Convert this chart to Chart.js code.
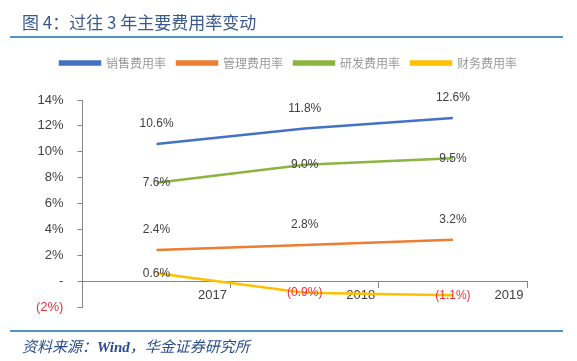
<!DOCTYPE html>
<html>
<head>
<meta charset="utf-8">
<script src="https://cdn.jsdelivr.net/npm/chart.js@4"></script>
<style>
  html, body { margin: 0; padding: 0; background: #fff; }
  #wrap { position: relative; width: 577px; height: 361px; overflow: hidden; }
  #chart { position: absolute; left: 0; top: 0; }
  .title { position: absolute; left: 22px; top: 9px; font: 17px "Noto Sans CJK SC", sans-serif; color: #3A5A8C; white-space: nowrap; }
  .rule { position: absolute; left: 10px; width: 553px; height: 2px; background: #4C93CC; }
  .source { position: absolute; left: 22px; top: 335px; font: italic 15px "Noto Sans CJK SC", sans-serif; color: #2B4C8C; white-space: nowrap; }
  .source b { font-family: "Liberation Serif", serif; }
</style>
</head>
<body>
<div id="wrap">
  <canvas id="chart" width="577" height="361"></canvas>
  <div class="title">图 4：过往 3 年主要费用率变动</div>
  <div class="rule" style="top:36px"></div>
  <div class="rule" style="top:330px"></div>
  <div class="source">资料来源：<b>Wind</b>，华金证券研究所</div>
</div>
<script>
// years on the x axis
const years = ['2017', '2018', '2019'];

// expense ratios in percent
const salesRatio = [10.6, 11.8, 12.6];    // 销售费用率
const adminRatio = [2.4, 2.8, 3.2];       // 管理费用率
const rdRatio = [7.6, 9.0, 9.5];          // 研发费用率
const financeRatio = [0.6, -0.9, -1.1];   // 财务费用率

// y axis range in percent
const yTicks = [-2, 0, 2, 4, 6, 8, 10, 12, 14];

// format like the report: negatives in brackets, zero as a dash
function fmtPct(v, digits) {
  if (v === 0) return '-';
  const s = Math.abs(v).toFixed(digits) + '%';
  return v < 0 ? '(' + s + ')' : s;
}

// more room under the legend, and nudge it a bit to the right
const legendSpace = {
  id: 'legendSpace',
  beforeInit(chart) {
    const fit = chart.legend.fit;
    chart.legend.fit = function () {
      fit.call(this);
      this.height += 21;
    };
  },
  afterLayout(chart) {
    chart.legend.left += 14;
    chart.legend.right += 14;
  }
};

// simple value labels, drawn from the points the library placed
const valueLabels = {
  id: 'valueLabels',
  afterDatasetsDraw(chart) {
    const ctx = chart.ctx;
    ctx.save();
    ctx.font = '12px "Liberation Sans", Arial, sans-serif';
    ctx.textAlign = 'center';
    ctx.textBaseline = 'middle';
    chart.data.datasets.forEach((ds, i) => {
      const meta = chart.getDatasetMeta(i);
      meta.data.forEach((pt, j) => {
        const v = ds.data[j];
        ctx.fillStyle = v < 0 ? '#E8303A' : '#404040';
        ctx.fillText(fmtPct(v, 1), pt.x, pt.y + ds.labelShift);
      });
    });
    ctx.restore();
  }
};

function line(label, data, color, shift) {
  return {
    label: label,
    data: data,
    borderColor: color,
    backgroundColor: color,
    borderWidth: 2.5,
    pointRadius: 0,
    tension: 0,
    labelShift: shift
  };
}

new Chart(document.getElementById('chart'), {
  type: 'line',
  data: {
    labels: years,
    datasets: [
      line('销售费用率', salesRatio, '#4472C4', -20),
      line('管理费用率', adminRatio, '#ED7D31', -20),
      line('研发费用率', rdRatio, '#8CB441', 0),
      line('财务费用率', financeRatio, '#FFC000', 0)
    ]
  },
  options: {
    responsive: false,
    animation: false,
    layout: { padding: { left: 22, right: 50, top: 46, bottom: 54 } },
    plugins: {
      tooltip: { enabled: false },
      legend: {
        position: 'top',
        labels: {
          boxWidth: 40,
          boxHeight: 3,
          padding: 11,
          color: '#999999',
          font: { size: 12, family: '"Noto Sans CJK SC", sans-serif' }
        }
      }
    },
    scales: {
      x: {
        type: 'category',
        offset: true,
        position: { y: 0 },
        grid: { offset: true, drawOnChartArea: false, tickLength: 6, color: '#868686' },
        border: { color: '#868686', width: 1 },
        ticks: {
          labelOffset: 56,
          padding: 0,
          color: '#404040',
          font: { size: 13, family: '"Liberation Sans", Arial, sans-serif' }
        }
      },
      y: {
        min: yTicks[0],
        max: yTicks[yTicks.length - 1],
        afterBuildTicks(scale) { scale.ticks = yTicks.map(v => ({ value: v })); },
        grid: { drawOnChartArea: false, tickLength: 5, color: '#868686' },
        border: { color: '#868686', width: 1 },
        ticks: {
          padding: 14,
          color: c => (c.tick && c.tick.value < 0 ? '#E8303A' : '#404040'),
          font: { size: 13, family: '"Liberation Sans", Arial, sans-serif' },
          callback: v => fmtPct(v, 0)
        }
      }
    }
  },
  plugins: [legendSpace, valueLabels]
});
</script>
</body>
</html>
